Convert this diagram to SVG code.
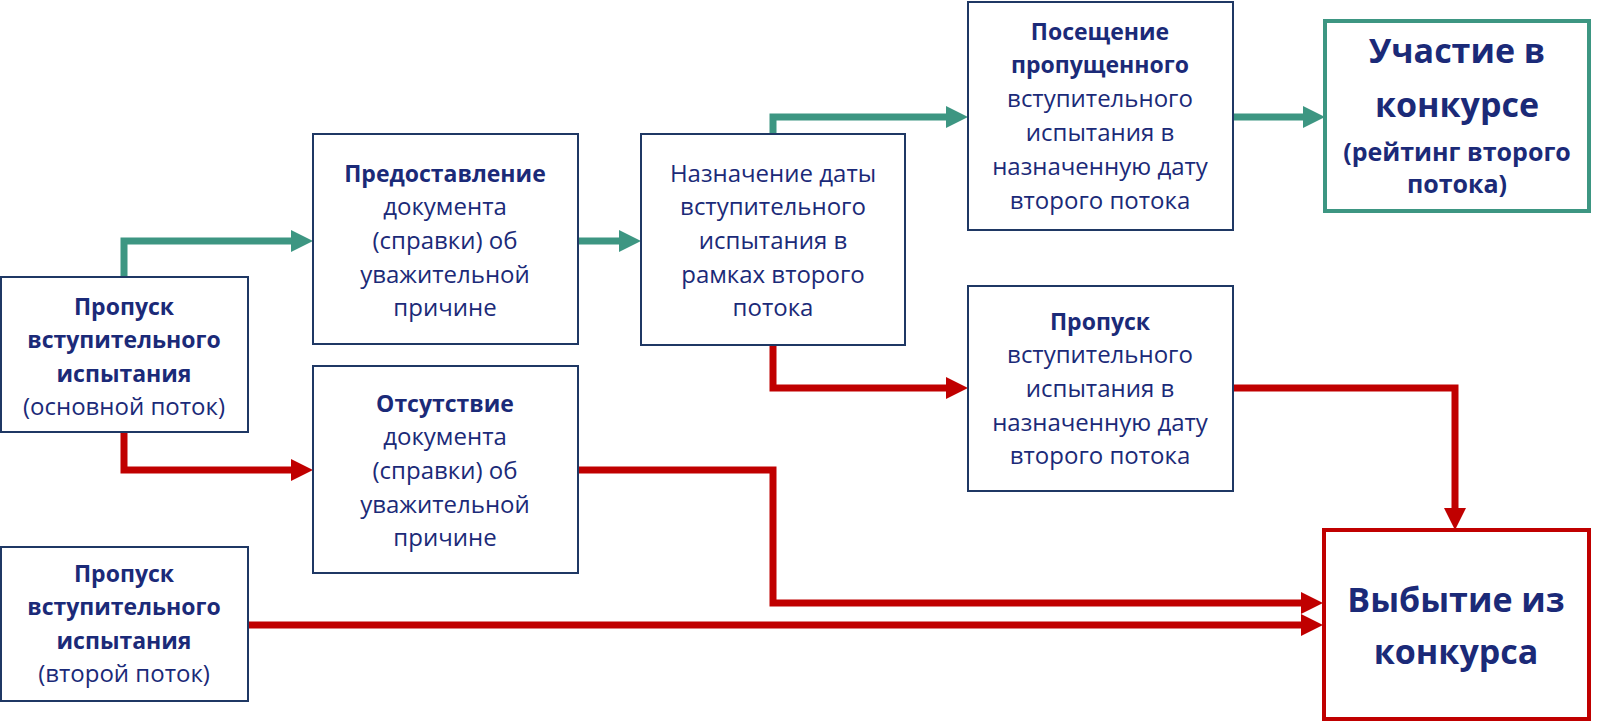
<svg xmlns="http://www.w3.org/2000/svg" width="1600" height="722" viewBox="0 0 1600 722">
<defs>
<style>
.box{fill:#fff;stroke:#1F3864;stroke-width:2}
.t{font-family:"Open Sans","Noto Sans","Liberation Sans",sans-serif;font-size:24px;fill:#1B2A78;text-anchor:middle}
.b{font-weight:bold;font-size:23px}
.big{font-size:34px;font-weight:bold}
.mid{font-size:25px;font-weight:bold}
.g{fill:none;stroke:#3D9682;stroke-width:7}
.r{fill:none;stroke:#C00000;stroke-width:7}
</style>
<marker id="ag" markerUnits="userSpaceOnUse" markerWidth="22" markerHeight="22" refX="0" refY="11" orient="auto"><path d="M0,0 L22,11 L0,22 z" fill="#3D9682"/></marker>
<marker id="ar" markerUnits="userSpaceOnUse" markerWidth="22" markerHeight="22" refX="0" refY="11" orient="auto"><path d="M0,0 L22,11 L0,22 z" fill="#C00000"/></marker>
</defs>
<rect width="1600" height="722" fill="#fff"/>
<g id="connectors">
<path class="g" d="M124,277 V241 H291" marker-end="url(#ag)"/>
<path class="g" d="M578,241 H619" marker-end="url(#ag)"/>
<path class="g" d="M773,134 V117 H946" marker-end="url(#ag)"/>
<path class="g" d="M1233,117 H1303" marker-end="url(#ag)"/>
<path class="r" d="M124,432 V470 H291" marker-end="url(#ar)"/>
<path class="r" d="M773,345 V388 H946" marker-end="url(#ar)"/>
<path class="r" d="M1233,388 H1455 V508" marker-end="url(#ar)"/>
<path class="r" d="M578,470 H773 V603 H1301" marker-end="url(#ar)"/>
<path class="r" d="M248,625 H1301" marker-end="url(#ar)"/>
</g>
<g id="n1">
<rect class="box" x="1" y="277" width="247" height="155"/>
<text class="t b" x="124" y="315">Пропуск</text>
<text class="t b" x="124" y="348">вступительного</text>
<text class="t b" x="124" y="382">испытания</text>
<text class="t" x="124" y="415">(основной поток)</text>
</g>
<g id="n2">
<rect class="box" x="313" y="134" width="265" height="210"/>
<text class="t b" x="445" y="182">Предоставление</text>
<text class="t" x="445" y="215">документа</text>
<text class="t" x="445" y="249">(справки) об</text>
<text class="t" x="445" y="283">уважительной</text>
<text class="t" x="445" y="316">причине</text>
</g>
<g id="n3">
<rect class="box" x="641" y="134" width="264" height="211"/>
<text class="t" x="773" y="182">Назначение даты</text>
<text class="t" x="773" y="215">вступительного</text>
<text class="t" x="773" y="249">испытания в</text>
<text class="t" x="773" y="283">рамках второго</text>
<text class="t" x="773" y="316">потока</text>
</g>
<g id="n4">
<rect class="box" x="968" y="2" width="265" height="228"/>
<text class="t b" x="1100" y="40">Посещение</text>
<text class="t b" x="1100" y="73">пропущенного</text>
<text class="t" x="1100" y="107">вступительного</text>
<text class="t" x="1100" y="141">испытания в</text>
<text class="t" x="1100" y="175">назначенную дату</text>
<text class="t" x="1100" y="209">второго потока</text>
</g>
<g id="n5">
<rect class="box" x="968" y="286" width="265" height="205"/>
<text class="t b" x="1100" y="330">Пропуск</text>
<text class="t" x="1100" y="363">вступительного</text>
<text class="t" x="1100" y="397">испытания в</text>
<text class="t" x="1100" y="431">назначенную дату</text>
<text class="t" x="1100" y="464">второго потока</text>
</g>
<g id="n6">
<rect class="box" x="313" y="366" width="265" height="207"/>
<text class="t b" x="445" y="412">Отсутствие</text>
<text class="t" x="445" y="445">документа</text>
<text class="t" x="445" y="479">(справки) об</text>
<text class="t" x="445" y="513">уважительной</text>
<text class="t" x="445" y="546">причине</text>
</g>
<g id="n7">
<rect class="box" x="1" y="547" width="247" height="154"/>
<text class="t b" x="124" y="582">Пропуск</text>
<text class="t b" x="124" y="615">вступительного</text>
<text class="t b" x="124" y="649">испытания</text>
<text class="t" x="124" y="682">(второй поток)</text>
</g>
<g id="n8">
<rect x="1325" y="21" width="264" height="190" fill="#fff" stroke="#3D9682" stroke-width="4"/>
<text class="t big" x="1457" y="63">Участие в</text>
<text class="t big" x="1457" y="117">конкурсе</text>
<text class="t mid" x="1457" y="161">(рейтинг второго</text>
<text class="t mid" x="1457" y="193">потока)</text>
</g>
<g id="n9">
<rect x="1324" y="530" width="265" height="189" fill="#fff" stroke="#C00000" stroke-width="4"/>
<text class="t big" x="1456" y="612">Выбытие из</text>
<text class="t big" x="1456" y="664">конкурса</text>
</g>
</svg>
